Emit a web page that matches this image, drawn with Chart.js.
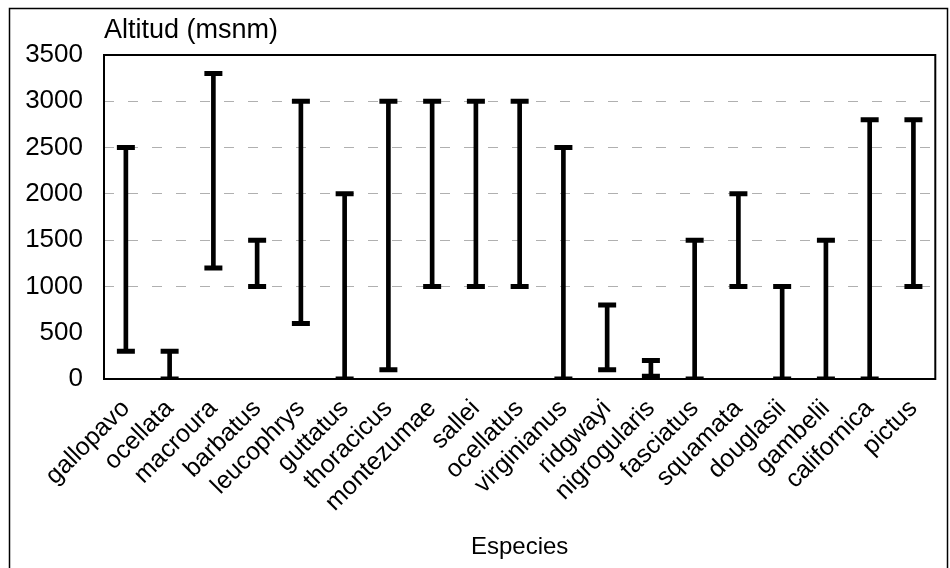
<!DOCTYPE html>
<html>
<head>
<meta charset="utf-8">
<script src="https://cdn.jsdelivr.net/npm/chart.js@4.4.1/dist/chart.umd.min.js"></script>
<style>
html,body{margin:0;padding:0;background:#fff;}
#wrap{width:950px;height:568px;position:relative;}
</style>
</head>
<body>
<div id="wrap"><canvas id="c" width="950" height="568"></canvas></div>
<script>
const species = ["gallopavo","ocellata","macroura","barbatus","leucophrys","guttatus","thoracicus","montezumae","sallei","ocellatus","virginianus","ridgwayi","nigrogularis","fasciatus","squamata","douglasii","gambelii","californica","pictus"];
const minAlt = [300,0,1200,1000,600,0,100,1000,1000,1000,0,100,30,0,1000,0,0,0,1000];
const maxAlt = [2500,300,3300,1500,3000,2000,3000,3000,3000,3000,2500,800,200,1500,2000,1000,1500,2800,2800];
const yTicks = [0,500,1000,1500,2000,2500,3000,3500];
const yTitle = "Altitud (msnm)";
const xTitle = "Especies";

const FONT = "'Liberation Sans', Arial, sans-serif";

const framePlugin = {
  id: 'frame',
  beforeDraw(chart) {
    const ctx = chart.ctx;
    ctx.save();
    ctx.fillStyle = '#fff';
    ctx.fillRect(0, 0, chart.width, chart.height);
    ctx.strokeStyle = '#000';
    ctx.lineWidth = 1.5;
    ctx.strokeRect(9.5, 8.5, 938, 600);
    ctx.restore();
  },
  afterDatasetsDraw(chart) {
    const ctx = chart.ctx, a = chart.chartArea;
    ctx.save();
    ctx.strokeStyle = '#000';
    ctx.lineWidth = 2;
    ctx.strokeRect(a.left, a.top, a.right - a.left, a.bottom - a.top);
    ctx.fillStyle = '#000';
    ctx.font = "27px " + FONT;
    ctx.textAlign = 'left';
    ctx.textBaseline = 'middle';
    ctx.fillText(yTitle, a.left, 31);
    ctx.restore();
  }
};

new Chart(document.getElementById('c'), {
  data: {
    labels: species,
    datasets: [
      {
        type: 'bar',
        data: species.map((s, i) => [minAlt[i], maxAlt[i]]),
        backgroundColor: '#000',
        borderWidth: 0,
        barThickness: 4,
        order: 2
      },
      {
        type: 'line',
        data: minAlt,
        showLine: false,
        pointStyle: 'line',
        pointRadius: 9,
        pointBorderWidth: 5,
        pointBorderColor: '#000',
        pointBackgroundColor: '#000',
        order: 1
      },
      {
        type: 'line',
        data: maxAlt,
        showLine: false,
        pointStyle: 'line',
        pointRadius: 9,
        pointBorderWidth: 5,
        pointBorderColor: '#000',
        pointBackgroundColor: '#000',
        order: 1
      }
    ]
  },
  options: {
    responsive: false,
    animation: false,
    layout: { padding: { left: 0, right: 5, top: 55, bottom: 0 } },
    plugins: { legend: { display: false }, tooltip: { enabled: false }, title: { display: false } },
    scales: {
      x: {
        offset: true,
        grid: { display: false, drawTicks: false },
        border: { display: false },
        ticks: {
          color: '#000',
          font: { size: 25, family: FONT },
          maxRotation: 45,
          minRotation: 45,
          autoSkip: false,
          padding: 15
        },
        title: {
          display: true,
          text: xTitle,
          color: '#000',
          font: { size: 24, family: FONT },
          padding: { top: 0, bottom: 6 }
        },
        afterFit(scale) { scale.height = 189; }
      },
      y: {
        min: 0,
        max: 3500,
        afterBuildTicks(scale) { scale.ticks = yTicks.map(v => ({ value: v })); },
        grid: {
          color: (c) => (c.tick.value <= 500 || c.tick.value === 3500) ? 'rgba(0,0,0,0)' : '#b0b0b0',
          drawTicks: false,
          lineWidth: 1
        },
        border: { display: false, dash: [10, 14] },
        ticks: {
          color: '#000',
          font: { size: 26, family: FONT },
          padding: 21,
          callback: (v) => String(v)
        },
        afterFit(scale) { scale.width = 104; }
      }
    }
  },
  plugins: [framePlugin]
});
</script>
</body>
</html>
